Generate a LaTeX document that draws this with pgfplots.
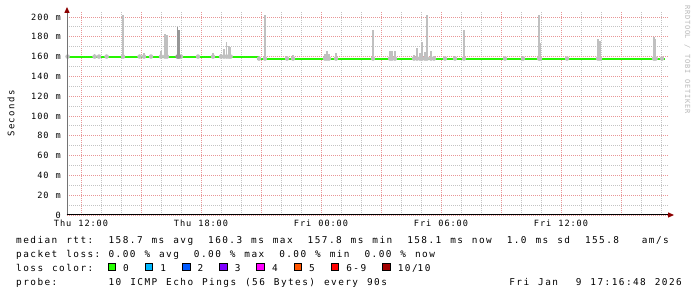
\documentclass[border=0pt]{standalone}
\usepackage{pgfplots}
\pgfplotsset{compat=1.18}
\usepackage{pgfplotstable}
\usepackage{fontspec}
\setmainfont{DejaVu Sans Mono}
\newfontfamily\lgf[LetterSpace=15.4,WordSpace=1.256]{DejaVu Sans Mono}
\newfontfamily\axf[LetterSpace=10.7,WordSpace=1.16]{DejaVu Sans Mono}
\newcommand\legendfont{\lgf\fontsize{9.4}{9.4}\selectfont}
\newcommand\axisfont{\axf\fontsize{8.6}{8.6}\selectfont}
\definecolor{gridred}{RGB}{232,150,150}
\definecolor{gridgrey}{RGB}{195,195,195}
\definecolor{smoke}{RGB}{192,192,192}
\definecolor{smokedark}{RGB}{150,150,150}
\definecolor{medgreen}{RGB}{38,245,0}
\definecolor{arrowred}{RGB}{140,0,0}
\definecolor{l0}{HTML}{26FF00}
\definecolor{l1}{HTML}{00B8FF}
\definecolor{l2}{HTML}{0059FF}
\definecolor{l3}{HTML}{7E00FF}
\definecolor{l4}{HTML}{FF00FF}
\definecolor{l5}{HTML}{FF5500}
\definecolor{l6}{HTML}{FF0000}
\definecolor{l10}{HTML}{A10000}

\pgfplotstableread{
x b t
11.33 160 168
12.68 160 162.5
12.9 160 162
13.28 160 161
14.1 160 202
14.93 160 162
15.15 160 164
15.5 160 161
16.0 160 165.5
16.2 160 183
16.3 160 182
17.0 160 161
17.85 160 162
18.6 160 164
19.0 160 163
19.15 160 168
19.28 160 175
19.4 160 171
19.48 160 170
20.9 158 161
21.2 158 202
22.3 158 161
22.6 158 162
24.2 158 163
24.3 158 165.5
24.4 158 163
24.75 158 164
26.6 158 187
27.45 158 166
27.55 158 166
27.7 158 166
28.65 158 162
28.8 158 168.5
28.95 158 164
29.05 158 175
29.2 158 165
29.3 158 202
29.5 158 166
29.65 158 161
30.2 158 160
30.7 158 161
31.15 158 187
33.2 158 160
34.1 158 161
34.9 158 202
34.95 158 174
36.3 158 159.5
37.85 158 178
37.95 158 176
40.65 158 180
40.73 158 178
41.05 158 159.5
}\smokedata

\pgfplotstableread{
x b t
16.83 160 190
16.9 160 187
}\smokedark

\newcommand\lgd[3]{\node[anchor=base west,inner sep=0pt,font=\legendfont] at ({16+#1*7.11},#2) {#3};}

\begin{document}
\begin{tikzpicture}[x=1pt,y=1pt]
\useasboundingbox (0,0) rectangle (697,297);
\begin{axis}[
  at={(67pt,82pt)}, anchor=south west,
  scale only axis, width=601pt, height=203pt,
  xmin=11.3, xmax=41.35, ymin=0, ymax=205,
  axis line style={draw=none},
  xtick={12,15,...,39},
  xticklabels={Thu 12:00,,Thu 18:00,,Fri 00:00,,Fri 06:00,,Fri 12:00,},
  minor xtick={13,14,16,17,19,20,22,23,25,26,28,29,31,32,34,35,37,38,40,41},
  ytick={0,20,...,200},
  yticklabels={0\hspace{12.2pt},20 m,40 m,60 m,80 m,100 m,120 m,140 m,160 m,180 m,200 m},
  minor ytick={10,30,...,190},
  major tick length=0pt, minor tick length=0pt,
  grid=both,
  major grid style={draw=gridred, dash pattern=on 1pt off 1pt, line width=0.8pt},
  minor grid style={draw=gridgrey, dash pattern=on 1pt off 1pt, line width=0.8pt},
  xticklabel style={font=\axisfont, anchor=north, inner sep=0pt, yshift=-5pt},
  yticklabel style={font=\axisfont, anchor=east, inner sep=0pt, xshift=-6pt},
]
\addplot[only marks, mark=none, smoke, error bars/.cd, y dir=plus, y explicit, error mark=none,
  error bar style={line width=1.2pt, draw=smoke}]
  table[x=x, y=b, y error expr=\thisrow{t}-\thisrow{b}] {\smokedata};
\addplot[only marks, mark=none, smokedark, error bars/.cd, y dir=plus, y explicit, error mark=none,
  error bar style={line width=1.2pt, draw=smokedark}]
  table[x=x, y=b, y error expr=\thisrow{t}-\thisrow{b}] {\smokedark};
\addplot[medgreen, line width=2pt] coordinates {(11.3,160) (20.85,160) (20.85,158) (41.2,158)};
\end{axis}
% axes and arrows
\draw[black!55, line width=1pt] (67,81.5) -- (67,286);
\draw[black, line width=1pt] (66.5,82) -- (670,82);
\fill[arrowred] (64.3,284) -- (69.7,284) -- (67,290) -- cycle;
\fill[arrowred] (668,79.3) -- (668,84.7) -- (674,82) -- cycle;
% y label and watermark
\node[rotate=90, font=\lgf\fontsize{9}{9}\selectfont, inner sep=0pt] at (11,183.5) {Seconds};
\node[rotate=-90, anchor=west, font=\axf\fontsize{7}{7}\selectfont, text=black!28, inner sep=0pt] at (687.5,292) {RRDTOOL / TOBI OETIKER};
% legend rows
\lgd{0}{53}{median rtt:}
\lgd{13}{53}{158.7 ms avg}
\lgd{27}{53}{160.3 ms max}
\lgd{41}{53}{157.8 ms min}
\lgd{55}{53}{158.1 ms now}
\lgd{69}{53}{1.0 ms sd}
\lgd{80}{53}{155.8}
\lgd{88}{53}{am/s}
\lgd{0}{39}{packet loss:}
\lgd{13}{39}{0.00 \% avg}
\lgd{25}{39}{0.00 \% max}
\lgd{37}{39}{0.00 \% min}
\lgd{49}{39}{0.00 \% now}
\lgd{0}{25}{loss color:}
\foreach \c/\t/\bx in {l0/0/108, l1/1/145.2, l2/2/182.4, l3/3/219.6, l4/4/256.8, l5/5/294, l6/6-9/331.2, l10/10\slash10/382.6}{
  \filldraw[fill=\c, draw=black, line width=0.8pt] (\bx,26.3) rectangle ++(7.5,7.4);
  \node[anchor=base west,inner sep=0pt,font=\legendfont] at (\bx+15,25) {\t};
}
\lgd{0}{11}{probe:}
\lgd{13}{11}{10 ICMP Echo Pings (56 Bytes) every 90s}
\node[anchor=base east,inner sep=0pt,font=\legendfont] at (682,11) {Fri Jan\ \ 9 17:16:48 2026};
\end{tikzpicture}
\end{document}
